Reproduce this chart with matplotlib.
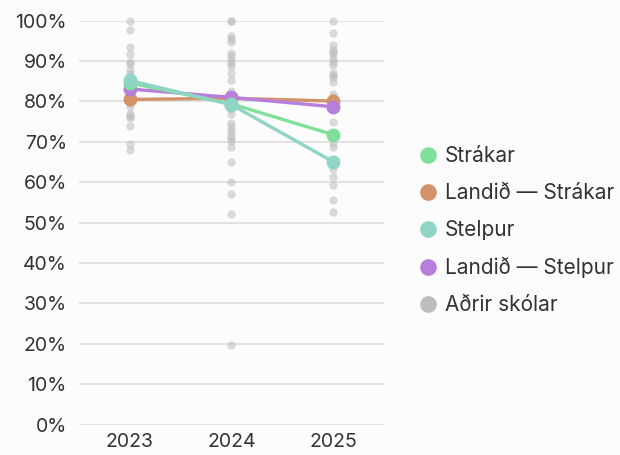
import matplotlib
matplotlib.use("Agg")
import matplotlib.pyplot as plt
from matplotlib.lines import Line2D

plt.rcParams['font.family'] = ['Inter', 'DejaVu Sans']

# =====================================================
# Gögn
# =====================================================

years = ["2023", "2024", "2025"]

strakar = [84.6, 79.4, 71.8]
landid_strakar = [80.5, 80.8, 80.1]
stelpur = [85.2, 79.2, 65.1]
landid_stelpur = [83.1, 81.0, 78.7]

adrir_2023 = [100, 97.8, 93.4, 91.7, 89.8, 89.2, 87.9, 86.9, 85.5, 83.8,
              82.0, 79.5, 78.6, 77.0, 76.3, 75.9, 74.0, 69.4, 68.1]
adrir_2024 = [100, 100, 96.3, 95.4, 94.7, 92.0, 91.2, 90.2, 89.6, 88.9,
              87.0, 85.2, 82.7, 81.6, 78.2, 76.9, 74.6, 73.7, 72.6, 71.8,
              70.9, 70.2, 68.6, 65.0, 60.0, 57.0, 52.1, 19.7]
adrir_2025 = [100, 97.0, 94.0, 92.7, 92.2, 91.7, 90.6, 89.8, 89.0, 87.1,
              86.5, 86.0, 84.9, 81.8, 81.2, 75.0, 69.8, 68.8, 63.2, 61.4,
              59.4, 55.7, 52.6]

y_ticks = [0, 10, 20, 30, 40, 50, 60, 70, 80, 90, 100]

# =====================================================
# Litir
# =====================================================

BG = "#fcfcfc"
TXT = "#333333"
GREEN = "#80e09b"
ORANGE = "#d4926a"
TEAL = "#8fd4c4"
PURPLE = "#b77fdc"
GRAY = "#bdbdbd"

fig = plt.figure(figsize=(6.2, 4.55), dpi=100, facecolor=BG)
ax = fig.add_axes([0.127, 0.067, 0.492, 0.8875])
ax.set_facecolor(BG)

# Aðrir skólar
for i, vals in enumerate([adrir_2023, adrir_2024, adrir_2025]):
    ax.scatter([i] * len(vals), vals, s=36, color=GRAY, alpha=0.55,
               linewidths=0, zorder=2, clip_on=False)

# Línur
series = [
    (landid_strakar, ORANGE),
    (landid_stelpur, PURPLE),
    (strakar, GREEN),
    (stelpur, TEAL),
]
for vals, col in series:
    ax.plot(range(len(years)), vals, color=col, linewidth=2.4,
            marker="o", markersize=9, zorder=3, clip_on=False)

# Ásar
ax.set_xlim(-0.5, 2.5)
ax.set_ylim(0, 100)
ax.set_xticks(range(len(years)))
ax.set_xticklabels(years)
ax.set_yticks(y_ticks)
ax.set_yticklabels([f"{v}%" for v in y_ticks])
ax.tick_params(length=0, labelsize=14, colors=TXT)
ax.tick_params(axis="y", pad=8.6)
ax.tick_params(axis="x", pad=6)
ax.grid(axis="y", color="#dddddd", linewidth=1.2, zorder=0)
ax.set_axisbelow(True)
for s in ax.spines.values():
    s.set_visible(False)

# Skýringar
labels = ["Strákar", "Landið — Strákar", "Stelpur", "Landið — Stelpur", "Aðrir skólar"]
colors = [GREEN, ORANGE, TEAL, PURPLE, GRAY]
handles = [Line2D([], [], linestyle="none", marker="o", markersize=12,
                  color=c, markeredgewidth=0) for c in colors]
fig.legend(handles, labels, loc="center left", bbox_to_anchor=(0.6735, 0.4934),
           frameon=False, fontsize=15, labelcolor=TXT, handletextpad=0.32,
           labelspacing=0.81, borderpad=0, borderaxespad=0, handlelength=1.0)

plt.savefig("out.png", dpi=100, facecolor=BG)
